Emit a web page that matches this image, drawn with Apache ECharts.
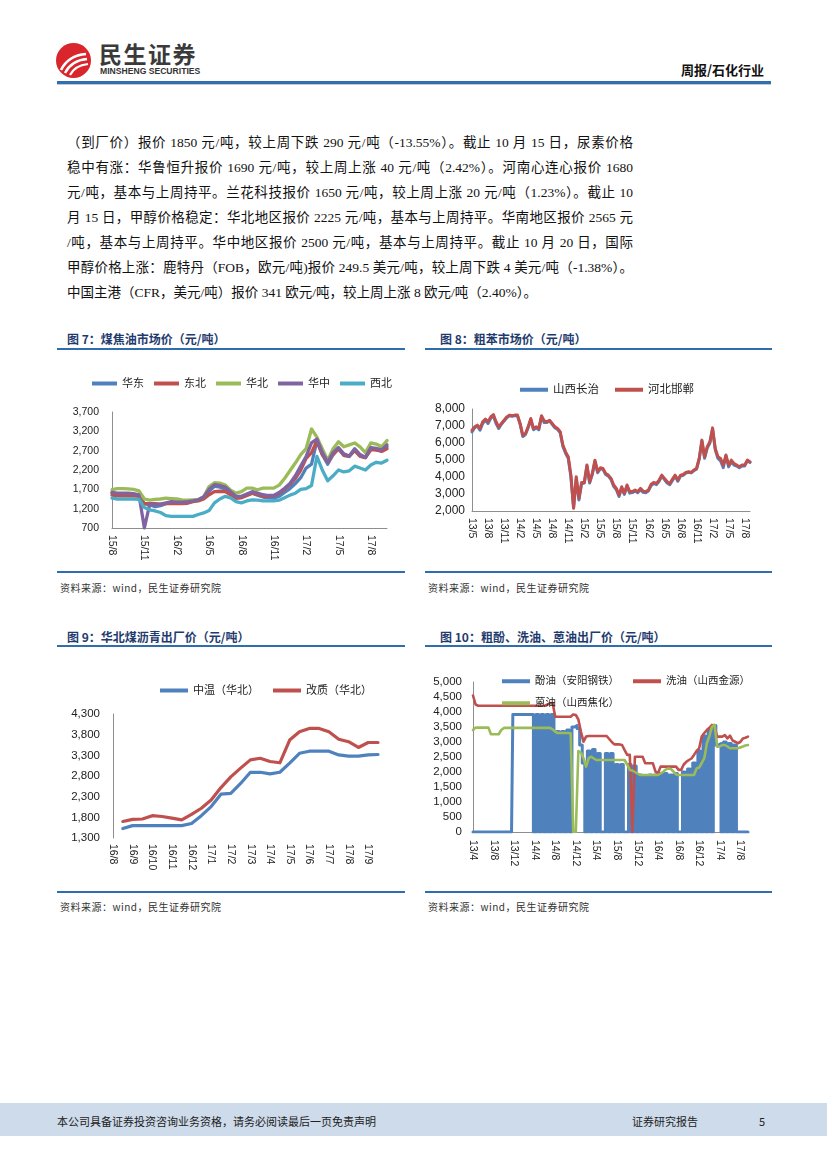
<!DOCTYPE html>
<html><head><meta charset="utf-8">
<script src="https://cdn.jsdelivr.net/npm/echarts/dist/echarts.min.js"></script>
<style>
body{margin:0;background:#fff;}
#page{position:relative;width:827px;height:1169px;overflow:hidden;font-family:"Noto Sans CJK SC",sans-serif;color:#111;background:#fff;}
.abs{position:absolute;white-space:nowrap;}
.para{position:absolute;left:67px;width:566px;font-family:"Liberation Serif","Noto Sans CJK SC",serif;font-size:13.5px;line-height:18px;text-align:justify;text-align-last:justify;color:#111;white-space:nowrap;}
.ftitle{position:absolute;font-size:12px;font-weight:bold;color:#1F3B6E;line-height:16px;white-space:nowrap;}
.rule{position:absolute;height:2px;background:#2F6DAE;}
.src{position:absolute;font-size:10px;color:#333;line-height:14px;white-space:nowrap;letter-spacing:0.5px;}
.chart{position:absolute;}
</style></head>
<body><div id="page">
<!-- header -->
<svg class="abs" style="left:56px;top:43px" width="35" height="35" viewBox="0 0 35 35">
<circle cx="17.5" cy="17.5" r="17.5" fill="#D9262C"/>
<path d="M5 27 C10 17,18 12,30 11" stroke="#fff" stroke-width="2.6" fill="none"/>
<path d="M9 30 C13 22,20 17,31 16" stroke="#fff" stroke-width="2.4" fill="none"/>
<path d="M14 32 C17 26,23 22,32 21" stroke="#fff" stroke-width="2.2" fill="none"/>
</svg>
<div class="abs" style="left:99px;top:40px;font-size:23px;font-weight:bold;color:#3a3a3a;letter-spacing:1.5px;line-height:26px;">民生证券</div>
<div class="abs" style="left:100px;top:66px;font-size:8.6px;font-weight:bold;color:#333;line-height:10px;font-family:'Liberation Sans',sans-serif;">MINSHENG SECURITIES</div>
<div class="abs" style="left:681px;top:61px;font-size:13px;font-weight:bold;color:#111;line-height:18px;">周报/石化行业</div>
<div class="abs" style="left:57px;top:81px;width:714px;height:3px;background:#2E6FB0;"></div>
<div class="abs" style="left:57px;top:84px;width:714px;height:1px;background:#c8c8c8;"></div>

<!-- paragraph -->
<div class="para" style="top:134px">（到厂价）报价 1850 元/吨，较上周下跌 290 元/吨（-13.55%）。截止 10 月 15 日，尿素价格</div>
<div class="para" style="top:159px">稳中有涨：华鲁恒升报价 1690 元/吨，较上周上涨 40 元/吨（2.42%）。河南心连心报价 1680</div>
<div class="para" style="top:184px">元/吨，基本与上周持平。兰花科技报价 1650 元/吨，较上周上涨 20 元/吨（1.23%）。截止 10</div>
<div class="para" style="top:209px">月 15 日，甲醇价格稳定：华北地区报价 2225 元/吨，基本与上周持平。华南地区报价 2565 元</div>
<div class="para" style="top:234px">/吨，基本与上周持平。华中地区报价 2500 元/吨，基本与上周持平。截止 10 月 20 日，国际</div>
<div class="para" style="top:259px">甲醇价格上涨：鹿特丹（FOB，欧元/吨)报价 249.5 美元/吨，较上周下跌 4 美元/吨（-1.38%）。</div>
<div class="para" style="top:284px;width:auto;text-align:left;text-align-last:auto;">中国主港（CFR，美元/吨）报价 341 欧元/吨，较上周上涨 8 欧元/吨（2.40%）。</div>

<!-- figure titles / rules / sources -->
<div class="ftitle" style="left:67px;top:331px">图 7：煤焦油市场价（元/吨）</div>
<div class="rule" style="left:57px;top:348px;width:348px"></div>
<div class="rule" style="left:57px;top:571px;width:348px"></div>
<div class="src" style="left:60px;top:581px">资料来源：wind，民生证券研究院</div>

<div class="ftitle" style="left:440px;top:331px">图 8：粗苯市场价（元/吨）</div>
<div class="rule" style="left:425px;top:348px;width:347px"></div>
<div class="rule" style="left:425px;top:571px;width:347px"></div>
<div class="src" style="left:428px;top:581px">资料来源：wind，民生证券研究院</div>

<div class="ftitle" style="left:67px;top:629px">图 9：华北煤沥青出厂价（元/吨）</div>
<div class="rule" style="left:57px;top:645px;width:348px"></div>
<div class="rule" style="left:57px;top:891px;width:348px"></div>
<div class="src" style="left:60px;top:900px">资料来源：wind，民生证券研究院</div>

<div class="ftitle" style="left:440px;top:629px">图 10：粗酚、洗油、蒽油出厂价（元/吨）</div>
<div class="rule" style="left:425px;top:645px;width:347px"></div>
<div class="rule" style="left:425px;top:891px;width:347px"></div>
<div class="src" style="left:428px;top:900px">资料来源：wind，民生证券研究院</div>

<div id="c7" class="chart" style="left:57px;top:355px;width:350px;height:215px"></div>
<div id="c8" class="chart" style="left:425px;top:355px;width:350px;height:215px"></div>
<div id="c9" class="chart" style="left:57px;top:652px;width:350px;height:238px"></div>
<div id="c10" class="chart" style="left:425px;top:652px;width:350px;height:238px"></div>

<!-- footer -->
<div class="abs" style="left:0;top:1103px;width:827px;height:33px;background:#CDDBEA;"></div>
<div class="abs" style="left:57px;top:1113px;font-size:11px;color:#222;line-height:16px;">本公司具备证券投资咨询业务资格，请务必阅读最后一页免责声明</div>
<div class="abs" style="left:632px;top:1113px;font-size:11px;color:#222;line-height:16px;">证券研究报告</div>
<div class="abs" style="left:759px;top:1113px;font-size:11px;color:#222;line-height:16px;">5</div>
</div>

<script>
// ---------- data ----------
// Fig 7: half-month points from 2015/8
const c7Start = [15, 8];
const c7Names = ['华东','东北','华北','华中','西北'];
const c7Huadong = [1600,1570,1570,1560,1560,1530, 1330,1300,1250,1280,1330,1360, 1370,1360,1370,1390,1420,1480, 1650,1780,1760,1700,1560,1470, 1500,1550,1600,1550,1500,1480, 1470,1520,1620,1720,1850,2000, 2250,2350,2950,2600,2350,2600, 2750,2580,2550,2720,2560,2520, 2760,2720,2700,2800];
const c7Dongbei = [1550,1540,1530,1530,1530,1520, 1330,1330,1330,1320,1330,1340, 1330,1330,1340,1380,1400,1450, 1560,1640,1650,1640,1560,1470, 1480,1540,1600,1560,1520,1520, 1530,1600,1700,1830,1980,2200, 2500,2650,2950,2600,2400,2600, 2750,2580,2560,2700,2560,2520, 2720,2720,2680,2750];
const c7Huabei = [1690,1720,1720,1710,1700,1660, 1450,1420,1440,1450,1470,1460, 1450,1430,1420,1430,1440,1510, 1770,1870,1860,1810,1680,1600, 1640,1730,1730,1690,1730,1730, 1730,1810,1980,2180,2380,2600, 2750,3260,3050,2750,2450,2750, 2930,2800,2850,2900,2800,2650, 2900,2870,2800,2960];
const c7Huazhong = [1620,1600,1600,1600,1590,1560, 700,1320,1300,1320,1350,1380, 1370,1370,1380,1400,1430,1500, 1700,1820,1800,1760,1640,1520, 1520,1580,1640,1600,1560,1540, 1540,1620,1730,1850,2050,2300, 2550,2900,3000,2650,2400,2650, 2780,2620,2560,2750,2600,2530, 2780,2760,2720,2850];
const c7Xibei = [1470,1450,1450,1450,1450,1440, 1230,1170,1140,1100,1020,1000, 1000,1000,1000,1000,1050,1090, 1150,1350,1450,1520,1480,1380, 1350,1400,1430,1420,1400,1400, 1400,1420,1480,1550,1600,1700, 1720,1800,2550,2200,1920,2050, 2200,2150,2180,2300,2250,2200, 2330,2400,2380,2450];

// Fig 8: half-month points from 2013/5
const c8Start = [13, 5];
const c8Names = ['山西长治','河北邯郸'];
const c8Shanxi = [6650,6900,7000,6750,7150,7350,7150,7450,7600,7150, 6850,7100,7300,7480,7600,7580,7600,7600,7100,6380, 6500,6900,7380,6780,6900,6780,7550,7200,7200,7300, 7100,6900,6800,6600,5800,5400,5100,4000,2200,3900, 2650,3600,3650,4650,3650,4150,4900,4250,4480,4450, 4150,4050,3850,3450,3250,2850,3350,2980,3450,3050, 3080,3180,3080,3250,3100,3080,3180,3500,3620,3550, 3750,4050,3850,3650,3550,3800,4050,3750,4050,4100, 4230,4280,4240,4380,4460,5050,6100,5100,5700,6000, 6800,5600,5100,4950,4550,5250,4600,4900,4700,4650, 4550,4650,4650,4950,4850];
const c8Hebei = [6750,6950,7050,6850,7250,7400,7250,7530,7670,7250, 6950,7150,7340,7530,7640,7600,7640,7640,7150,6460, 6560,6950,7440,6850,6950,6850,7600,7300,7250,7340, 7150,6950,6850,6660,5880,5480,5190,4110,2160,4020, 2740,3680,3680,4700,3720,4210,4990,4310,4540,4500, 4210,4110,3920,3530,3330,2940,3430,3040,3530,3140, 3140,3230,3140,3330,3170,3140,3230,3570,3680,3620, 3820,4110,3920,3720,3620,3880,4110,3820,4110,4150, 4270,4310,4270,4410,4500,5090,6170,5190,5780,6070, 6890,5680,5190,5090,4700,5290,4700,4990,4800,4700, 4600,4700,4700,4990,4900];

// Fig 9: half-month points from 2016/8
const c9Start = [16, 8];
const c9Names = ['中温（华北）','改质（华北）'];
const c9Zhongwen = [null,1530,1600,1600,1600,1600,1600,1600,1650,1840,2060,2360,2380,2620,2890,2890,2850,2890,3110,3350,3400,3400,3400,3310,3280,3280,3310,3320];
const c9Gaizhi = [null,1700,1750,1760,1840,1820,1780,1740,1870,2020,2220,2520,2780,2990,3190,3230,3150,3120,3670,3870,3950,3950,3870,3690,3630,3490,3610,3610];

// Fig 10: half-month points from 2013/4
const c10Start = [13, 4];
const c10Names = ['酚油（安阳钢铁）','洗油（山西金源）','蒽油（山西焦化）'];
const c10Fenyou = [0,0,0,0,0,0,0,0,0,0,0,0,0,0,0,0,
  3920,3920,3920,3920,3920,3920,3920,3920,
  0,3920,0,3920,0,3920,0,3920,
  0,3350,0,3350,0,3400,
  0,3500,3550,
  3450,2900,2300,
  0,2700,0,
  2750,0,2620,0,
  0,
  2620,0,2620,0,
  2250,0,2250,0,
  0,
  2250,0,2200,0,1900,0,1850,
  0,1900,0,1900,
  0,
  1950,0,1950,0,1900,0,1950,
  0,0,
  2000,0,2100,0,
  2300,0,2700,0,3200,0,3400,0,3550,
  2900,2950,
  0,3000,0,2950,0,2900,
  0,0,0,0,0];
const c10Xiyou = [4550,4250,
  4210,4210,4210,4210,4210,4210,4210,4210,4210,4210,4210,4210,4210,4210,4210,4210,4210,4210,4210,4210,4210,4210,4210,4210,4210,4210,4210,
  4250,4290,4290,
  3840,3840,3840,3840,3840,3840,3840,
  3920,3900,3750,3340,3010,3180,
  3200,3200,3200,3200,3200,3200,3200,3200,
  3100,3000,2920,2920,2920,2900,2730,2570,2570,
  0,
  2510,2510,2510,2510,
  2290,2290,2290,2290,
  2010,1960,
  2180,2180,2180,2180,2180,2180,2180,
  2070,2070,2250,2340,2400,2450,2570,2700,2790,3180,3300,3400,3480,3570,3500,3180,3180,3180,3230,3120,3210,3050,3010,2960,3000,3120,3140,3180];
const c10Enyou = [3400,
  3480,3480,3480,3480,3480,3480,
  3260,3260,3260,3260,
  3400,
  3470,3470,3470,3470,3470,3470,3470,3470,3470,3470,3470,3470,3470,3470,3470,3470,3470,3470,3470,
  3420,3340,
  3300,3300,3300,3300,3300,
  3290,0,0,2700,2650,2460,2180,2460,2510,2450,
  2400,2400,2400,2400,2400,2400,2400,2400,2400,2400,2400,2400,
  2250,2070,2050,2000,1950,
  1900,1900,1900,1900,1900,1900,1900,1900,
  1950,2010,2080,2120,2100,2010,1920,
  1900,1900,1900,1900,1900,1900,1900,
  2120,2150,2300,2460,2960,3200,3510,3570,2840,2850,2900,2900,2850,
  2790,2790,2790,2790,
  2820,2850,2880,2900];

// ---------- helpers ----------
const FONT = '"Liberation Sans","Noto Sans CJK SC",sans-serif';
const AXIS = '#8e8e8e';
const BLUE='#4F81BD', RED='#C0504D', GREEN='#9BBB59', PURPLE='#8064A2', CYAN='#4BACC6';

function halfMonthCats(start, n) {
  const out = [];
  for (let i = 0; i < n; i++) {
    const k = start[1] - 1 + Math.floor(i / 2);
    const yy = start[0] + Math.floor(k / 12);
    const mm = (k % 12) + 1;
    out.push(yy + '/' + mm + (i % 2 ? '+' : ''));
  }
  return out;
}

function lineOpt(c) {
  return {
    animation: false,
    textStyle: { fontFamily: FONT },
    grid: { left: c.grid[0], top: c.grid[1], right: c.grid[2], bottom: c.grid[3], containLabel: false, outerBoundsMode: 'none' },
    legend: c.legends.map(l => ({
      data: l.data, left: l.left, top: l.top, orient: 'horizontal',
      icon: 'rect', itemWidth: l.iw, itemHeight: l.ih, itemGap: l.gap, padding: 0,
      textStyle: { fontSize: l.fs, color: '#222', fontFamily: FONT }
    })),
    xAxis: {
      type: 'category', boundaryGap: false, data: c.cats,
      axisLine: { show: c.xLine, lineStyle: { color: AXIS, width: 1 } },
      axisTick: { show: false },
      splitLine: { show: false },
      axisLabel: { interval: c.interval, rotate: -90, margin: c.xm, fontSize: c.xfs, color: '#222', fontFamily: FONT,
        formatter: v => v.replace('+', '') }
    },
    yAxis: {
      type: 'value', min: c.min, max: c.max, interval: c.step,
      axisLine: { show: true, lineStyle: { color: AXIS, width: 1 } },
      axisTick: { show: false },
      splitLine: { show: false },
      axisLabel: { margin: c.ym, fontSize: c.yfs, color: '#222', fontFamily: FONT,
        formatter: v => Number(v).toLocaleString('en-US') }
    },
    series: c.series.map(s => ({
      type: 'line', name: s.name, data: s.data, symbol: 'none', showSymbol: false,
      step: s.step || false,
      color: s.color, itemStyle: { color: s.color },
      lineStyle: { width: s.w, color: s.color, join: 'round', cap: 'round' },
      emphasis: { disabled: true }
    }))
  };
}

// ---------- fig 7 ----------
echarts.init(document.getElementById('c7')).setOption(lineOpt({
  grid: [55, 57, 20, 42],
  cats: halfMonthCats(c7Start, c7Huadong.length), interval: 5, xLine: true, xm: 7, xfs: 10.5,
  min: 700, max: 3700, step: 500, ym: 13, yfs: 10.5,
  legends: [{ data: c7Names, left: 35, top: 23, iw: 25, ih: 4, gap: 10, fs: 11 }],
  series: [
    { name: c7Names[0], data: c7Huadong, color: BLUE, w: 3.3 },
    { name: c7Names[1], data: c7Dongbei, color: RED, w: 3.3 },
    { name: c7Names[2], data: c7Huabei, color: GREEN, w: 3.3 },
    { name: c7Names[3], data: c7Huazhong, color: PURPLE, w: 3.3 },
    { name: c7Names[4], data: c7Xibei, color: CYAN, w: 3.3 }
  ]
}));

// ---------- fig 8 ----------
echarts.init(document.getElementById('c8')).setOption(lineOpt({
  grid: [47, 54, 25, 59],
  cats: halfMonthCats(c8Start, c8Hebei.length), interval: 5, xLine: true, xm: 7, xfs: 10.5,
  min: 2000, max: 8000, step: 1000, ym: 7, yfs: 12,
  legends: [{ data: c8Names, left: 95, top: 29, iw: 28, ih: 4, gap: 16, fs: 11.5 }],
  series: [
    { name: c8Names[0], data: c8Shanxi, color: BLUE, w: 3 },
    { name: c8Names[1], data: c8Hebei, color: RED, w: 3 }
  ]
}));

// ---------- fig 9 ----------
echarts.init(document.getElementById('c9')).setOption(lineOpt({
  grid: [56, 62, 29, 52],
  cats: halfMonthCats(c9Start, c9Zhongwen.length), interval: 1, xLine: false, xm: 6, xfs: 10.5,
  min: 1300, max: 4300, step: 500, ym: 13, yfs: 11.5,
  legends: [{ data: c9Names, left: 103, top: 33, iw: 28, ih: 4, gap: 14, fs: 11 }],
  series: [
    { name: c9Names[0], data: c9Zhongwen, color: BLUE, w: 3.2 },
    { name: c9Names[1], data: c9Gaizhi, color: RED, w: 3.2 }
  ]
}));

// ---------- fig 10 ----------
echarts.init(document.getElementById('c10')).setOption(lineOpt({
  grid: [48, 30, 27, 58],
  cats: halfMonthCats(c10Start, c10Xiyou.length), interval: 7, xLine: true, xm: 8, xfs: 10.5,
  min: 0, max: 5000, step: 500, ym: 11, yfs: 11.5,
  legends: [
    { data: [c10Names[0], c10Names[1]], left: 77, top: 24, iw: 28, ih: 4, gap: 14, fs: 10.5 },
    { data: [c10Names[2]], left: 77, top: 46, iw: 28, ih: 4, gap: 14, fs: 10.5 }
  ],
  series: [
    { name: c10Names[0], data: c10Fenyou, color: BLUE, w: 3, step: 'middle' },
    { name: c10Names[1], data: c10Xiyou, color: RED, w: 2.6 },
    { name: c10Names[2], data: c10Enyou, color: GREEN, w: 2.6 }
  ]
}));
</script>
</body></html>
